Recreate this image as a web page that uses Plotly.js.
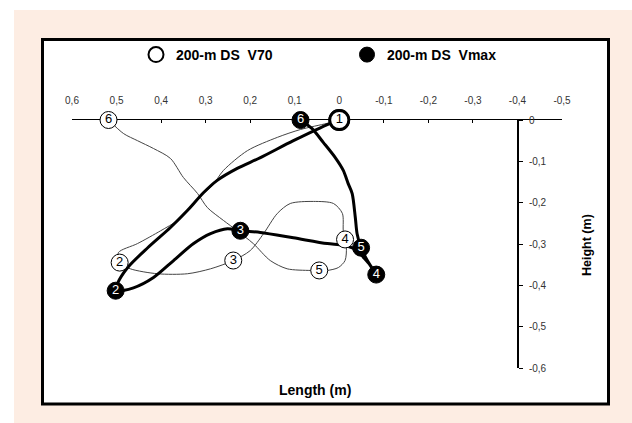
<!DOCTYPE html>
<html><head><meta charset="utf-8">
<script src="https://cdn.plot.ly/plotly-3.0.1.min.js"></script>
<style>
html,body{margin:0;padding:0;background:#fff;width:632px;height:423px;overflow:hidden}
#chart{position:absolute;left:14px;top:10px;width:618px;height:413px}
</style>
</head><body><div id="chart"></div>
<script>
// ---- data ----
var v70Name = '200-m DS  V70';
var vmaxName = '200-m DS  Vmax';
var pointLabels = ['1','2','3','4','5','6'];

var v70PathX = [0, 0.027, 0.087, 0.139, 0.206, 0.260, 0.285, 0.305, 0.334, 0.363, 0.401, 0.453, 0.496,
  0.493, 0.469, 0.408, 0.341, 0.289,
  0.238, 0.200, 0.170, 0.139, 0.110, 0.058, 0.013, -0.007, -0.009,
  -0.013, -0.016, -0.013, 0.002, 0.027,
  0.045, 0.065, 0.117, 0.155, 0.193, 0.229, 0.260, 0.296, 0.318, 0.350, 0.379, 0.417, 0.453, 0.484,
  0.518];
var v70PathY = [0, -0.008, -0.023, -0.042, -0.074, -0.122, -0.159, -0.178, -0.212, -0.243, -0.268, -0.299, -0.321,
  -0.345, -0.360, -0.372, -0.372, -0.360,
  -0.340, -0.316, -0.275, -0.226, -0.202, -0.197, -0.202, -0.226, -0.268,
  -0.289, -0.308, -0.340, -0.357, -0.364,
  -0.364, -0.364, -0.360, -0.340, -0.299, -0.268, -0.243, -0.212, -0.178, -0.139, -0.093, -0.069, -0.050, -0.033,
  0];

var vmaxPathX = [0, 0.020, 0.103, 0.177, 0.229, 0.274, 0.305, 0.341, 0.379, 0.430, 0.475, 0.498,
  0.502, 0.462, 0.417, 0.372, 0.327, 0.289, 0.251,
  0.222, 0.177, 0.103, 0.027, -0.009, -0.040, -0.054, -0.069,
  -0.083, -0.063,
  -0.049, -0.040, -0.036, -0.029, -0.020, -0.009, 0.009, 0.036, 0.061,
  0.087];
var vmaxPathY = [0, -0.008, -0.050, -0.091, -0.117, -0.146, -0.176, -0.219, -0.260, -0.309, -0.357, -0.396,
  -0.413, -0.406, -0.381, -0.340, -0.299, -0.275, -0.263,
  -0.268, -0.272, -0.285, -0.299, -0.303, -0.315, -0.332, -0.351,
  -0.374, -0.340,
  -0.309, -0.275, -0.236, -0.178, -0.154, -0.122, -0.091, -0.054, -0.021,
  0];

var v70MarkX = [0, 0.493, 0.238, -0.013, 0.045, 0.518];
var v70MarkY = [0, -0.345, -0.340, -0.289, -0.364, 0];
var vmaxMarkX = [0, 0.502, 0.222, -0.083, -0.049, 0.087];
var vmaxMarkY = [0, -0.413, -0.268, -0.374, -0.309, 0];

var xTickVals = [0.6, 0.5, 0.4, 0.3, 0.2, 0.1, 0, -0.1, -0.2, -0.3, -0.4, -0.5];
var xTickText = ['0,6','0,5','0,4','0,3','0,2','0,1','0','-0,1','-0,2','-0,3','-0,4','-0,5'];
var yTickVals = [0, -0.1, -0.2, -0.3, -0.4, -0.5, -0.6];
var yTickText = ['0','-0,1','-0,2','-0,3','-0,4','-0,5','-0,6'];

// ---- layout helpers (div is 618x413, plot area 58..548 x 110..358) ----
var W = 618, H = 413, mL = 58, mR = 70, mT = 110, mB = 55;
var pw = W - mL - mR, ph = H - mT - mB;
function px(p){ return (p - mL) / pw; }
function py(q){ return (mT + ph - q) / ph; }

var FAM = 'Liberation Sans, Arial, sans-serif';
var tickFont = {family: FAM, size: 10, color: '#333'};
var legFont = {family: FAM, size: 14, color: '#000', weight: 'bold'};

// the shared start point (1) is drawn as an open, heavy-rimmed circle
var startFill = ['#fff','#000','#000','#000','#000','#000'];
var startText = ['#000','#fff','#fff','#fff','#fff','#fff'];
var startRim = [2.8,1,1,1,1,1];
var startSize = [19,17,17,17,17,17];

var traces = [
  {x: v70PathX, y: v70PathY, mode: 'lines', line: {color: '#444', width: 1, shape: 'spline', smoothing: 0.8},
   showlegend: false, hoverinfo: 'skip', cliponaxis: false},
  {x: vmaxPathX, y: vmaxPathY, mode: 'lines', line: {color: '#000', width: 3, shape: 'spline', smoothing: 0.8},
   showlegend: false, hoverinfo: 'skip', cliponaxis: false},
  {x: vmaxMarkX, y: vmaxMarkY, text: pointLabels, mode: 'markers+text', textposition: 'middle center',
   textfont: {family: FAM, size: 13, color: startText}, cliponaxis: false,
   marker: {size: startSize, color: startFill, opacity: 1, line: {color: '#000', width: startRim}}, showlegend: false},
  {x: v70MarkX, y: v70MarkY, text: pointLabels, mode: 'markers+text', textposition: 'middle center',
   textfont: {family: FAM, size: 13, color: '#000'}, cliponaxis: false,
   marker: {size: startSize, color: '#fff', opacity: 1, line: {color: '#000', width: startRim}}, showlegend: false},
  {x: [null], y: [null], name: v70Name, mode: 'markers',
   marker: {size: 15, color: '#fff', line: {color: '#000', width: 2}}},
  {x: [null], y: [null], name: vmaxName, mode: 'markers',
   marker: {size: 15, color: '#000', line: {color: '#000', width: 1}}}
];

var layout = {
  width: W, height: H,
  margin: {l: mL, r: mR, t: mT, b: mB, pad: 0},
  paper_bgcolor: '#fdede3',
  plot_bgcolor: 'rgba(0,0,0,0)',
  showlegend: true,
  legend: {orientation: 'h', x: px(122), y: py(45), xanchor: 'left', yanchor: 'middle',
    font: legFont, bgcolor: 'rgba(0,0,0,0)', entrywidth: 166, entrywidthmode: 'pixels'},
  xaxis: {range: [0.6, -0.5], side: 'top', showline: true, linecolor: '#000', linewidth: 1,
    ticks: 'inside', ticklen: 3, tickcolor: '#000', tickvals: xTickVals, ticktext: xTickText,
    tickfont: tickFont, showgrid: false, zeroline: false, ticklabelstandoff: 11, fixedrange: true,
    layer: 'below traces'},
  yaxis: {range: [-0.6, 0], anchor: 'free', position: (0.6 + 0.4) / 1.1, side: 'right',
    showline: true, linecolor: '#000', linewidth: 1.5, ticks: 'outside', ticklen: 4, tickcolor: '#000',
    tickvals: yTickVals, ticktext: yTickText, tickfont: tickFont, showgrid: false, zeroline: false,
    ticklabelstandoff: 4, fixedrange: true, layer: 'below traces'},
  shapes: [
    {type: 'rect', xref: 'paper', yref: 'paper', layer: 'below',
     x0: px(28.5), x1: px(594.5), y0: py(29.5), y1: py(394),
     fillcolor: '#fff', line: {color: '#000', width: 3}}
  ],
  annotations: [
    {text: 'Length (m)', xref: 'paper', yref: 'paper', x: px(301), y: py(380), showarrow: false,
     font: {family: FAM, size: 14, color: '#000', weight: 'bold'}, xanchor: 'center', yanchor: 'middle'},
    {text: 'Height (m)', xref: 'paper', yref: 'paper', x: px(573), y: py(235), showarrow: false,
     font: {family: FAM, size: 12.5, color: '#000', weight: 'bold'},
     textangle: -90, xanchor: 'center', yanchor: 'middle'}
  ]
};

Plotly.newPlot('chart', traces, layout, {displayModeBar: false, staticPlot: true});
</script>
</body></html>
